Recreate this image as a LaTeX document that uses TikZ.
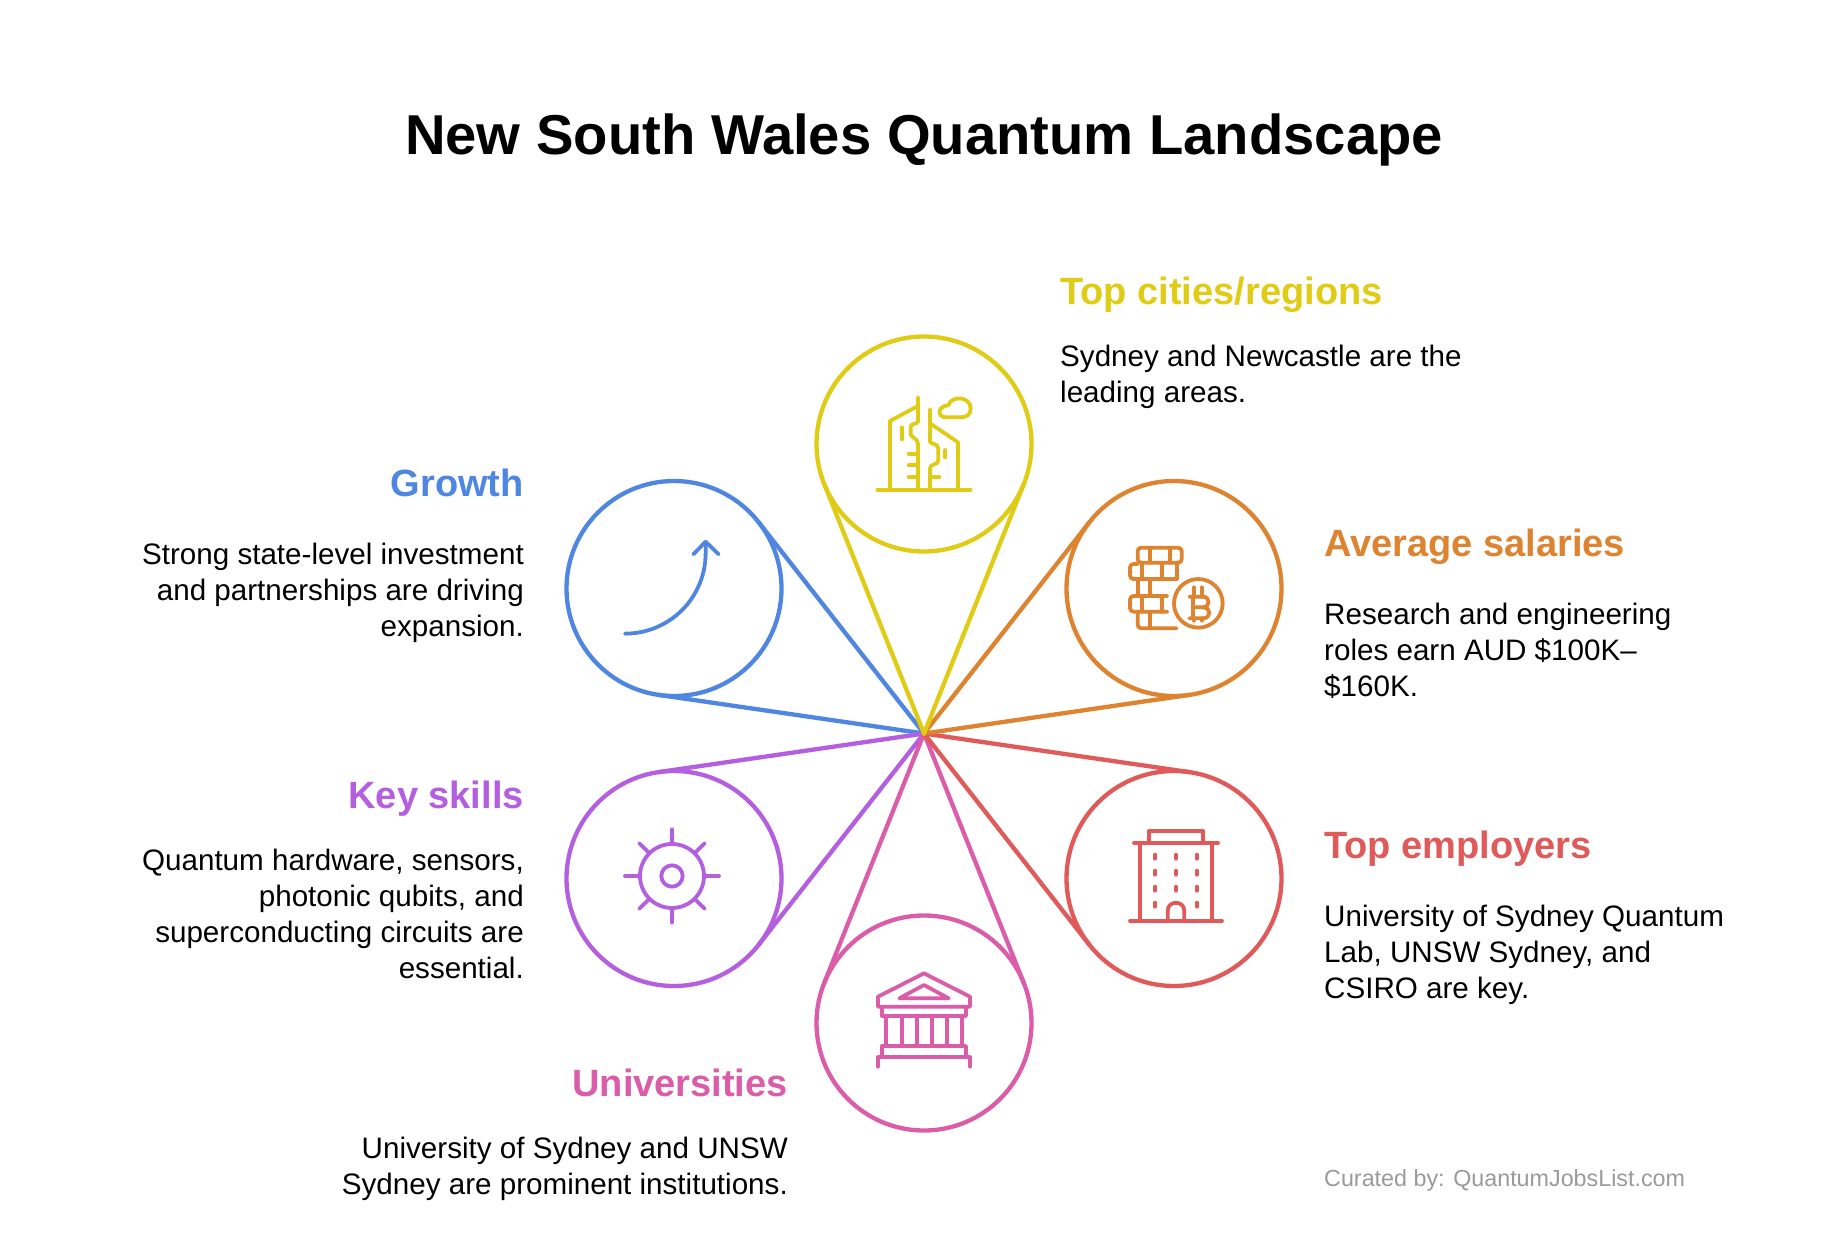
\documentclass[tikz,border=0pt]{standalone}
\usepackage{fontspec}
\setmainfont{Liberation Sans}
\usetikzlibrary{calc}
\definecolor{cyellow}{HTML}{E0CB15}
\definecolor{corange}{HTML}{DE8430}
\definecolor{cred}{HTML}{E05A5A}
\definecolor{cpink}{HTML}{DB5CA8}
\definecolor{cpurple}{HTML}{B45FE0}
\definecolor{cblue}{HTML}{4E86E2}
\definecolor{cgrey}{HTML}{9A9A9A}
\newcommand{\bodyfont}{\fontsize{29.6}{36}\selectfont}
\newcommand{\headfont}{\fontsize{38}{42}\selectfont\bfseries}
\tikzset{
  petal/.style={circle,draw=#1,line width=4.3pt,minimum size=215pt,inner sep=0pt,outer sep=0pt},
  spoke/.style={draw=#1,line width=4.3pt,line cap=round},
  ico/.style={draw=#1,line width=3.8pt,line cap=round,line join=round},
  headl/.style={anchor=base west,inner sep=0pt,font=\headfont,text=#1},
  headr/.style={anchor=base east,inner sep=0pt,font=\headfont,text=#1},
  bodyl/.style={anchor=north west,inner sep=0pt,align=left,font=\bodyfont,text=black},
  bodyr/.style={anchor=north east,inner sep=0pt,align=right,font=\bodyfont,text=black},
}
\begin{document}
\begin{tikzpicture}[x=1pt,y=-1pt]
\useasboundingbox (0,0) rectangle (1848,1250);
\fill[white] (0,0) rectangle (1848,1250);
\coordinate (hub) at (924,733.5);
\node[petal=cyellow] (top) at (924,444) {};
\node[petal=corange] (sal) at (1174,588.5) {};
\node[petal=cred] (emp) at (1174,878.5) {};
\node[petal=cpink] (uni) at (924,1023) {};
\node[petal=cpurple] (ski) at (674,878.5) {};
\node[petal=cblue] (gro) at (674,588.5) {};
\foreach \n/\c in {gro/cblue,ski/cpurple,uni/cpink,emp/cred,sal/corange,top/cyellow}{
  \draw[spoke=\c] (hub) -- (tangent cs:node=\n,point={(hub)},solution=1);
  \draw[spoke=\c] (hub) -- (tangent cs:node=\n,point={(hub)},solution=2);
}
% title
\node[inner sep=0pt,font=\fontsize{56.2}{60}\selectfont\bfseries,anchor=base] (title) at (924,154) {New South Wales Quantum Landscape};
% texts
\node[headl=cyellow] (h1) at (1060,304.5) {Top cities/regions};
\node[bodyl] (b1) at (1060,341.5) {\strut Sydney and Newcastle are the\\leading areas.};
\node[headl=corange] (h2) at (1324,556) {Average salaries};
\node[bodyl] (b2) at (1324,599.5) {\strut Research and engineering\\roles earn AUD \$100K–\\\$160K.};
\node[headl=cred] (h3) at (1324,858.5) {Top employers};
\node[bodyl] (b3) at (1324,901.5) {\strut University of Sydney Quantum\\Lab, UNSW Sydney, and\\CSIRO are key.};
\node[headr=cpink] (h4) at (788,1096) {Universities};
\node[bodyr] (b4) at (788,1133.5) {\strut University of Sydney and UNSW\\Sydney are prominent institutions.};
\node[headr=cpurple] (h5) at (524,808) {Key skills};
\node[bodyr] (b5) at (524,845.5) {\strut Quantum hardware, sensors,\\photonic qubits, and\\superconducting circuits are\\essential.};
\node[headr=cblue] (h6) at (524,496) {Growth};
\node[bodyr] (b6) at (524,539.5) {\strut Strong state-level investment\\and partnerships are driving\\expansion.};
\node[anchor=base west,inner sep=0pt,font=\fontsize{23.3}{26}\selectfont,text=cgrey] (cur) at (1324,1186) {Curated by: QuantumJobsList.com};
% icon: city
\begin{scope}[shift={(800,320)},x=0.3333pt,y=-0.3333pt,ico=cyellow]
\draw (232,509) -- (512,509);
\draw (270,509) -- (270,303) -- (354,258);
\draw (354,232) -- (354,305) .. controls (354,312) and (332,310) .. (332,320) -- (332,342) .. controls (332,352) and (354,355) .. (354,372) -- (354,509);
\draw (326,401) -- (354,401) (326,436) -- (354,436) (326,472) -- (354,472);
\draw (305,322) -- (305,358);
\draw (390,268) -- (390,365) .. controls (390,372) and (415,370) .. (415,385) -- (415,422) .. controls (415,436) and (390,430) .. (390,445) -- (390,509);
\draw (390,310) -- (474,367) -- (474,509);
\draw (390,472) -- (418,472);
\draw (436,390) -- (436,412);
\draw (438,292) .. controls (410,292) and (412,258) .. (445,256) .. controls (455,224) and (512,230) .. (512,265) .. controls (512,285) and (500,292) .. (480,292) -- cycle;
\end{scope}
% icon: coins
\begin{scope}[shift={(1060,470)},x=0.3333pt,y=-0.3333pt,ico=corange]
\draw[rounded corners=3.5pt] (233,278) -- (233,233) -- (365,233) -- (365,278) -- cycle;
\draw (270,233) -- (270,278) (330,233) -- (330,278);
\draw[rounded corners=3.5pt] (233,282) -- (210,282) -- (210,327) -- (350,327);
\draw (350,278) -- (350,327);
\draw (247,282) -- (247,327) (305,282) -- (305,327);
\draw (233,327) -- (233,378) (270,327) -- (270,378);
\draw[rounded corners=3.5pt] (322,378) -- (210,378) -- (210,425) -- (322,425);
\draw (247,378) -- (247,425) (305,378) -- (305,425);
\draw[rounded corners=3.5pt] (233,425) -- (233,475) -- (350,475);
\draw (270,425) -- (270,475);
\draw (415,400) circle[radius=73];
\draw (388,380) -- (428,380) .. controls (452,380) and (452,412) .. (428,412) -- (398,412);
\draw (428,412) .. controls (455,412) and (455,445) .. (428,445) -- (388,445);
\draw (398,380) -- (398,445);
\draw (402,352) -- (402,380) (425,352) -- (425,380) (402,445) -- (402,452) (425,445) -- (425,452);
\end{scope}
% icon: building
\begin{scope}[shift={(1060,760)},x=0.3333pt,y=-0.3333pt,ico=cred]
\draw (268,248) -- (268,212) -- (428,212) -- (428,248);
\draw (222,248) -- (474,248);
\draw (240,248) -- (240,483) (456,248) -- (456,483);
\draw (210,483) -- (486,483);
\foreach \x in {285,348,411}{\foreach \y in {290,338,386}{\draw[line width=4.6pt] (\x,\y-5) -- (\x,\y+5);}}
\draw[line width=4.6pt] (285,429) -- (285,439) (411,429) -- (411,439);
\draw (323,483) -- (323,453) .. controls (323,420) and (373,420) .. (373,453) -- (373,483);
\end{scope}
% icon: bank
\begin{scope}[shift={(810,910)},x=0.3333pt,y=-0.3333pt,ico=cpink]
\draw (204,290) -- (204,260) -- (342,190) -- (480,260) -- (480,290) -- cycle;
\draw (268,265) -- (342,225) -- (416,265) -- cycle;
\draw (215,290) -- (215,318) -- (468,318) -- (468,290);
\foreach \x in {229,275,320,365,410,455}{\draw (\x,318) -- (\x,408);}
\draw (215,440) -- (215,408) -- (468,408) -- (468,440);
\draw (204,470) -- (204,442) -- (480,442) -- (480,470);
\end{scope}
% icon: gear
\begin{scope}[shift={(560,760)},x=0.3333pt,y=-0.3333pt,ico=cpurple]
\draw (336,348) circle[radius=96];
\draw (336,348) circle[radius=32];
\draw (336,208) -- (336,250) (336,446) -- (336,488) (195,348) -- (238,348) (434,348) -- (477,348);
\draw (238,250) -- (266,277) (434,250) -- (406,277) (238,446) -- (266,419) (434,446) -- (406,419);
\end{scope}
% icon: growth
\begin{scope}[shift={(560,470)},x=0.3333pt,y=-0.3333pt,ico=cblue]
\draw (195,491) .. controls (329,491) and (437,383) .. (437,249) -- (437,215);
\draw (400,253) -- (437,215) -- (476,253);
\end{scope}
\end{tikzpicture}
\end{document}
